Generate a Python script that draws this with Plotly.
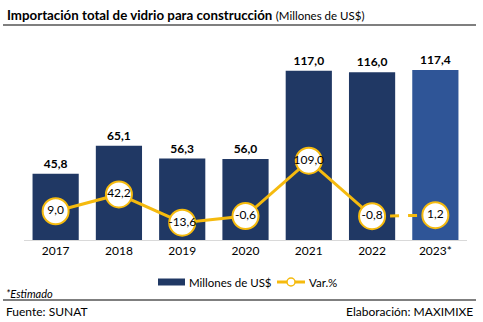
import plotly.graph_objects as go

years = ["2017", "2018", "2019", "2020", "2021", "2022", "2023*"]
millones = [45.8, 65.1, 56.3, 56.0, 117.0, 116.0, 117.4]
var_pct = [9.0, 42.2, -13.6, -0.6, 109.0, -0.8, 1.2]
bar_colors = ["#203864"] * 6 + ["#2F5597"]

W, H = 483, 322
L, R, T, B = 24, 16, 50, 82
PW, PH = W - L - R, H - T - B
FONT = "Lato"
GOLD = "#F5BA0E"

fig = go.Figure()
fig.add_trace(go.Bar(
    x=years, y=millones, marker=dict(color=bar_colors, line=dict(width=0)),
    texttemplate="<b>%{y:.1f}</b>", textposition="outside",
    textfont=dict(family=FONT, size=12, color="#000000"),
    cliponaxis=False, showlegend=False, hoverinfo="skip"))
# dashed segment (estimate)
fig.add_trace(go.Scatter(
    x=years[5:], y=var_pct[5:], yaxis="y2", mode="lines",
    line=dict(color=GOLD, width=3, dash="dash"), showlegend=False))
fig.add_trace(go.Scatter(
    x=years[:6], y=var_pct[:6], yaxis="y2", mode="lines",
    line=dict(color=GOLD, width=3), showlegend=False))
fig.add_trace(go.Scatter(
    x=years, y=var_pct, yaxis="y2", mode="markers+text",
    marker=dict(size=26, color="white", line=dict(color=GOLD, width=2)),
    texttemplate="%{y:.1f}", textposition="middle center",
    textfont=dict(family=FONT, size=12, color="#000000"),
    cliponaxis=False, showlegend=False))

def px(x):
    return (x - L) / PW

def py(y):
    return (H - B - y) / PH

shapes = [
    dict(type="line", xref="paper", yref="paper", x0=px(3), x1=px(476), y0=py(25), y1=py(25),
         line=dict(color="#000000", width=1.2)),
    dict(type="line", xref="paper", yref="paper", x0=px(3), x1=px(476), y0=py(300), y1=py(300),
         line=dict(color="#000000", width=1.2)),
    # legend symbols
    dict(type="rect", xref="paper", yref="paper", x0=px(158), x1=px(185), y0=py(285.5), y1=py(278.5),
         fillcolor="#203864", line=dict(width=0)),
    dict(type="line", xref="paper", yref="paper", x0=px(277), x1=px(305), y0=py(282), y1=py(282),
         line=dict(color=GOLD, width=3)),
    dict(type="circle", xref="paper", yref="paper", x0=px(287), x1=px(295), y0=py(286), y1=py(278),
         fillcolor="white", line=dict(color=GOLD, width=1.5)),
]

ann = [
    dict(x=px(5), y=py(15), xref="paper", yref="paper", xanchor="left", yanchor="middle",
         showarrow=False,
         text="<b>Importación total de vidrio para construcción</b> <span style='font-size:11.5px'>(Millones de US$)</span>",
         font=dict(family=FONT, size=13.3, color="#000000")),
    dict(x=px(187), y=py(282), xref="paper", yref="paper", xanchor="left", yanchor="middle",
         showarrow=False, text="Millones de US$", font=dict(family=FONT, size=11.5, color="#000000")),
    dict(x=px(307), y=py(282), xref="paper", yref="paper", xanchor="left", yanchor="middle",
         showarrow=False, text="Var.%", font=dict(family=FONT, size=11.5, color="#000000")),
    dict(x=px(4), y=py(293), xref="paper", yref="paper", xanchor="left", yanchor="middle",
         showarrow=False, text="<i>*Estimado</i>", font=dict(family=FONT, size=11, color="#000000")),
    dict(x=px(4), y=py(311), xref="paper", yref="paper", xanchor="left", yanchor="middle",
         showarrow=False, text="Fuente: SUNAT", font=dict(family=FONT, size=12, color="#000000")),
    dict(x=px(475), y=py(311), xref="paper", yref="paper", xanchor="right", yanchor="middle",
         showarrow=False, text="Elaboración: MAXIMIXE", font=dict(family=FONT, size=12, color="#000000")),
]

fig.update_layout(
    width=W, height=H, separators=",.",
    margin=dict(l=L, r=R, t=T, b=B),
    paper_bgcolor="white", plot_bgcolor="white",
    bargap=0.27, showlegend=False,
    xaxis=dict(range=[-0.5, 6.5], autorange=False, showgrid=False, showline=True,
               linecolor="#D9D9D9", linewidth=1,
               ticks="", tickfont=dict(family=FONT, size=12, color="#000000")),
    yaxis=dict(range=[0, 131.3], visible=False, showgrid=False),
    yaxis2=dict(range=[-47.9, 327.9], overlaying="y", visible=False, showgrid=False),
    shapes=shapes, annotations=ann,
    font=dict(family=FONT),
)
fig.write_html("out.html")
